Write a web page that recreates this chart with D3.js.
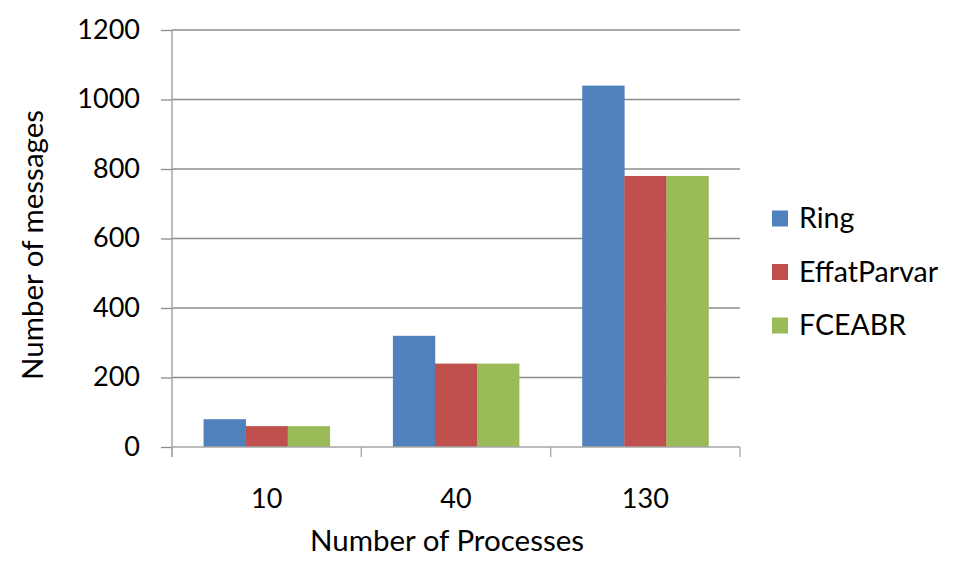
<!DOCTYPE html>
<html><head><meta charset="utf-8">
<script src="https://cdn.jsdelivr.net/npm/d3@7"></script>
<style>body{margin:0;background:#fff}text{font-family:Lato,"Open Sans",sans-serif;fill:#000}</style>
</head><body>
<svg id="c" width="960" height="568"></svg>
<script>
const categories = ["10","40","130"];
const seriesNames = ["Ring","EffatParvar","FCEABR"];
const ringValues = [80, 320, 1040];
const effatValues = [60, 240, 780];
const fceabrValues = [60, 240, 780];
const yTicks = [0,200,400,600,800,1000,1200];
const colors = ["#4F81BD","#C0504D","#9BBB59"];

const values = [ringValues, effatValues, fceabrValues];
const svg = d3.select("#c");
const L = 172, R = 740, T = 30, B = 447;
const x = d3.scaleBand().domain(categories).range([L, R]).paddingInner(0).paddingOuter(0);
const barW = x.bandwidth() / 4.5;
const y = d3.scaleLinear().domain([0,1200]).range([B, T]);

// gridlines
svg.append("g").selectAll("line").data(yTicks.slice(1)).join("line")
  .attr("x1", L).attr("x2", R).attr("y1", d=>y(d)).attr("y2", d=>y(d))
  .attr("stroke", "#8c8c8c").attr("stroke-width", 1.3);

// bars
categories.forEach((c, i) => {
  values.forEach((vals, s) => {
    svg.append("rect")
      .attr("x", x(c) + barW*0.75 + s*barW)
      .attr("y", y(vals[i]))
      .attr("width", barW + 0.3)
      .attr("height", B - y(vals[i]))
      .attr("fill", colors[s]);
  });
});

// y axis
const ya = svg.append("g").attr("transform", `translate(${L},0)`)
  .call(d3.axisLeft(y).tickValues(yTicks).tickSize(11).tickPadding(21).tickFormat(d3.format("d")));
ya.select(".domain").attr("stroke", "#a6a6a6").attr("stroke-width", 1.5).attr("d", `M0,${T}V${B+10}`);
ya.selectAll(".tick line").attr("stroke", "#8c8c8c").attr("stroke-width", 1.3);
ya.selectAll(".tick text").attr("font-size", 27).attr("font-family", "Lato, sans-serif").attr("fill","#000").attr("dy","0.3em");

// x axis
const xa = svg.append("g").attr("transform", `translate(0,${B})`)
  .call(d3.axisBottom(x).tickSize(0).tickPadding(0));
xa.select(".domain").attr("stroke", "#a6a6a6").attr("stroke-width", 1.5).attr("d", `M${L},0H${R}`);
xa.selectAll(".tick text").attr("font-size", 27).attr("font-family", "Lato, sans-serif").attr("fill","#000")
  .attr("dy", null).attr("y", 61);
svg.append("g").selectAll("line").data(categories.map(c=>x(c)).concat([R])).join("line")
  .attr("x1", d=>d).attr("x2", d=>d).attr("y1", B).attr("y2", B+10)
  .attr("stroke", "#a6a6a6").attr("stroke-width", 1.3);

// titles
svg.append("text").attr("x", 447).attr("y", 551).attr("text-anchor","middle")
  .attr("font-size", 29.5).text("Number of Processes");
svg.append("text").attr("transform", "translate(43,245) rotate(-90)").attr("text-anchor","middle")
  .attr("font-size", 29.5).text("Number of messages");

// legend
const lg = svg.append("g");
seriesNames.forEach((n, i) => {
  const cy = 218.5 + i*53.5;
  lg.append("rect").attr("x", 772).attr("y", cy-8).attr("width", 16).attr("height", 16).attr("fill", colors[i]);
  lg.append("text").attr("x", 799).attr("y", cy+9.5).attr("font-size", 28.5).text(n);
});
</script>
</body></html>
